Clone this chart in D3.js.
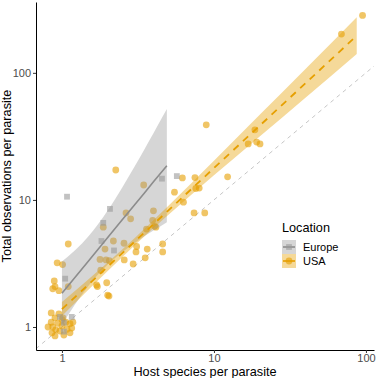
<!DOCTYPE html>
<html>
<head>
<meta charset="utf-8">
<script src="https://cdnjs.cloudflare.com/ajax/libs/d3/7.8.5/d3.min.js"></script>
<style>
  body { margin: 0; background: #fff; }
  svg { display: block; font-family: "Liberation Sans", Arial, sans-serif; }
</style>
</head>
<body>
<svg width="378" height="378"></svg>
<script>
// points (host species, total observations)
var usaX = [95, 69, 8.9, 18.6, 16.8, 19.1, 20.1, 7.5, 12.3, 8.0, 7.6, 2.26, 3.45, 6.2, 5.5, 6.3, 7.4, 8.7,
  2.64, 2.83, 4.0, 3.95, 4.07, 4.15, 3.6, 1.87, 1.1, 2.18, 2.56, 1.92, 3.1, 3.07, 3.64, 4.6, 4.6,
  1.78, 1.95, 2.05, 2.57, 3.53, 0.93, 1.01, 2.94, 1.8, 0.89, 0.9, 0.87, 0.955, 1.1, 1.69, 1.71, 1.97, 2.0, 2.04,
  0.85, 0.9, 0.955, 1.015, 1.06, 1.13, 1.18, 0.85, 0.87, 0.91, 0.86, 0.9, 0.97, 1.0, 1.03, 1.08, 1.13, 1.16, 0.94, 0.81, 1.0];
var usaY = [283, 202, 39, 35.6, 27.6, 28.5, 27.6, 15, 15.2, 12.4, 12.3, 17.2, 13.1, 14.9, 11.5, 9.6, 7.9, 7.9,
  7.9, 7.1, 8.2, 6.9, 6.2, 6.1, 5.9, 6.1, 4.5, 4.75, 4.56, 4.1, 4.3, 3.9, 4.1, 4.5, 3.9,
  3.4, 3.37, 3.33, 3.37, 3.5, 3.2, 3.1, 3.13, 2.8, 2.3, 2.08, 2.0, 1.93, 2.08, 2.14, 2.08, 2.23, 1.78, 1.75,
  1.29, 1.18, 1.27, 1.18, 1.09, 1.06, 1.09, 1.09, 1.0, 0.95, 0.9, 0.85, 0.93, 1.02, 0.865, 0.96, 0.9, 0.98, 1.07, 1.0, 1.14];

var europeX = [1.08, 2.07, 1.87, 1.82, 2.2, 1.05, 0.97, 1.16, 1.03, 1.03, 4.55, 5.7];
var europeY = [10.6, 8.5, 6.6, 4.75, 4.0, 2.4, 1.2, 1.2, 1.08, 0.92, 14.7, 15.4];

// fitted lines and their bands
var euFitX = [1, 1.5, 2, 2.5, 3, 3.5, 4, 4.9];
var euFit = [1.84, 3.32, 5.06, 7.0, 9.12, 11.4, 13.9, 18.6];
var euLower = [1.04, 2.12, 3.10, 3.89, 4.57, 5.19, 5.74, 6.68];
var euUpper = [3.27, 5.2, 8.26, 12.6, 18.2, 25.2, 33.5, 51.9];

var usFitX = [1, 2, 3, 5, 10, 20, 40, 87];
var usFit = [1.38, 2.98, 4.68, 8.24, 17.8, 38.4, 82.8, 196];
var usLower = [1.22, 2.76, 4.38, 7.60, 15.6, 31.6, 63.8, 141];
var usUpper = [1.57, 3.22, 4.99, 8.94, 20.3, 46.7, 107, 274];

var tickVals = [1, 10, 100];
var locations = ["Europe", "USA"];
var colors = { Europe: "#999999", USA: "#E69F00" };

var svg = d3.select("svg");
var padLeft = 36, padRight = 374, padTop = 2, padBottom = 350;

var x = d3.scaleLog().domain([0.675, 113]).range([padLeft, padRight]);
var y = d3.scaleLog().domain([0.659, 361]).range([padBottom, padTop]);

// y = x reference
var lo = Math.max(x.domain()[0], y.domain()[0]);
var hi = Math.min(x.domain()[1], y.domain()[1]);
svg.append("line")
  .attr("x1", x(lo)).attr("y1", y(lo))
  .attr("x2", x(hi)).attr("y2", y(hi))
  .attr("stroke", "#b8b8b8")
  .attr("stroke-width", 0.8)
  .attr("stroke-dasharray", "4,4");

// points
var usaPts = usaX.map((d, i) => ({ x: d, y: usaY[i] }));
var euPts = europeX.map((d, i) => ({ x: d, y: europeY[i] }));

svg.append("g")
  .selectAll("circle")
  .data(usaPts)
  .enter()
  .append("circle")
  .attr("cx", (d) => x(d.x))
  .attr("cy", (d) => y(d.y))
  .attr("r", 3.4)
  .style("fill", colors.USA)
  .style("fill-opacity", 0.6);

svg.append("g")
  .selectAll("rect")
  .data(euPts)
  .enter()
  .append("rect")
  .attr("x", (d) => x(d.x) - 2.9)
  .attr("y", (d) => y(d.y) - 2.9)
  .attr("width", 5.8)
  .attr("height", 5.8)
  .style("fill", colors.Europe)
  .style("fill-opacity", 0.6);

// bands
var area = d3.area()
  .x((d) => x(d.x))
  .y0((d) => y(d.lo))
  .y1((d) => y(d.hi))
  .curve(d3.curveMonotoneX);
var line = d3.line()
  .x((d) => x(d.x))
  .y((d) => y(d.y));

var euBand = euFitX.map((d, i) => ({ x: d, y: euFit[i], lo: euLower[i], hi: euUpper[i] }));
var usBand = usFitX.map((d, i) => ({ x: d, y: usFit[i], lo: usLower[i], hi: usUpper[i] }));

svg.append("path").datum(euBand).attr("d", area)
  .style("fill", colors.Europe).style("fill-opacity", 0.4);
svg.append("path").datum(usBand).attr("d", area)
  .style("fill", colors.USA).style("fill-opacity", 0.4);

svg.append("path").datum(euBand).attr("d", line)
  .style("fill", "none").style("stroke", "#8c8c8c").style("stroke-width", 1.6);
svg.append("path").datum(usBand).attr("d", line)
  .style("fill", "none").style("stroke", colors.USA).style("stroke-width", 1.8)
  .style("stroke-dasharray", "7,6");

// axes
var xAxis = svg.append("g")
  .attr("transform", "translate(0," + padBottom + ")")
  .call(d3.axisBottom(x).tickValues(tickVals).tickFormat(d3.format("d")).tickSize(3).tickSizeOuter(0));
var yAxis = svg.append("g")
  .attr("transform", "translate(" + padLeft + ",0)")
  .call(d3.axisLeft(y).tickValues(tickVals).tickFormat(d3.format("d")).tickSize(3).tickSizeOuter(0));

[xAxis, yAxis].forEach(function (a) {
  a.select(".domain").attr("stroke", "#000").attr("stroke-width", 1);
  a.selectAll(".tick line").attr("stroke", "#333");
  a.selectAll(".tick text").attr("fill", "#4d4d4d").style("font-size", "11px")
    .style("font-family", "Liberation Sans, Arial, sans-serif");
});
xAxis.selectAll(".tick text").attr("y", 4.5);
yAxis.selectAll(".tick text").attr("x", -5);

svg.append("text")
  .attr("x", (padLeft + padRight) / 2)
  .attr("y", 375.5)
  .attr("text-anchor", "middle")
  .style("font-size", "12.7px")
  .text("Host species per parasite");

svg.append("text")
  .attr("transform", "translate(11," + (padTop + padBottom) / 2 + ") rotate(-90)")
  .attr("text-anchor", "middle")
  .style("font-size", "12.7px")
  .text("Total observations per parasite");

// legend
var legend = svg.append("g").attr("transform", "translate(282,0)");
legend.append("text")
  .attr("x", 0).attr("y", 232)
  .style("font-size", "12.7px")
  .text("Location");

var keys = legend.selectAll("g.key")
  .data(locations)
  .enter()
  .append("g")
  .attr("class", "key")
  .attr("transform", (d, i) => "translate(0," + (240 + i * 14) + ")");

keys.append("rect")
  .attr("width", 14).attr("height", 14)
  .style("fill", (d) => colors[d]).style("fill-opacity", 0.4);
keys.append("line")
  .attr("x1", 1).attr("x2", 13).attr("y1", 7).attr("y2", 7)
  .style("stroke", (d) => d == "Europe" ? "#8c8c8c" : colors[d])
  .style("stroke-width", 1.6);
keys.filter((d) => d == "USA").append("circle")
  .attr("cx", 7).attr("cy", 7).attr("r", 3.4)
  .style("fill", colors.USA).style("fill-opacity", 0.6);
keys.filter((d) => d == "Europe").append("rect")
  .attr("x", 4.1).attr("y", 4.1).attr("width", 5.8).attr("height", 5.8)
  .style("fill", colors.Europe).style("fill-opacity", 0.6);
keys.append("text")
  .attr("x", 21).attr("y", 11)
  .style("font-size", "11px")
  .text((d) => d);
</script>
</body>
</html>
